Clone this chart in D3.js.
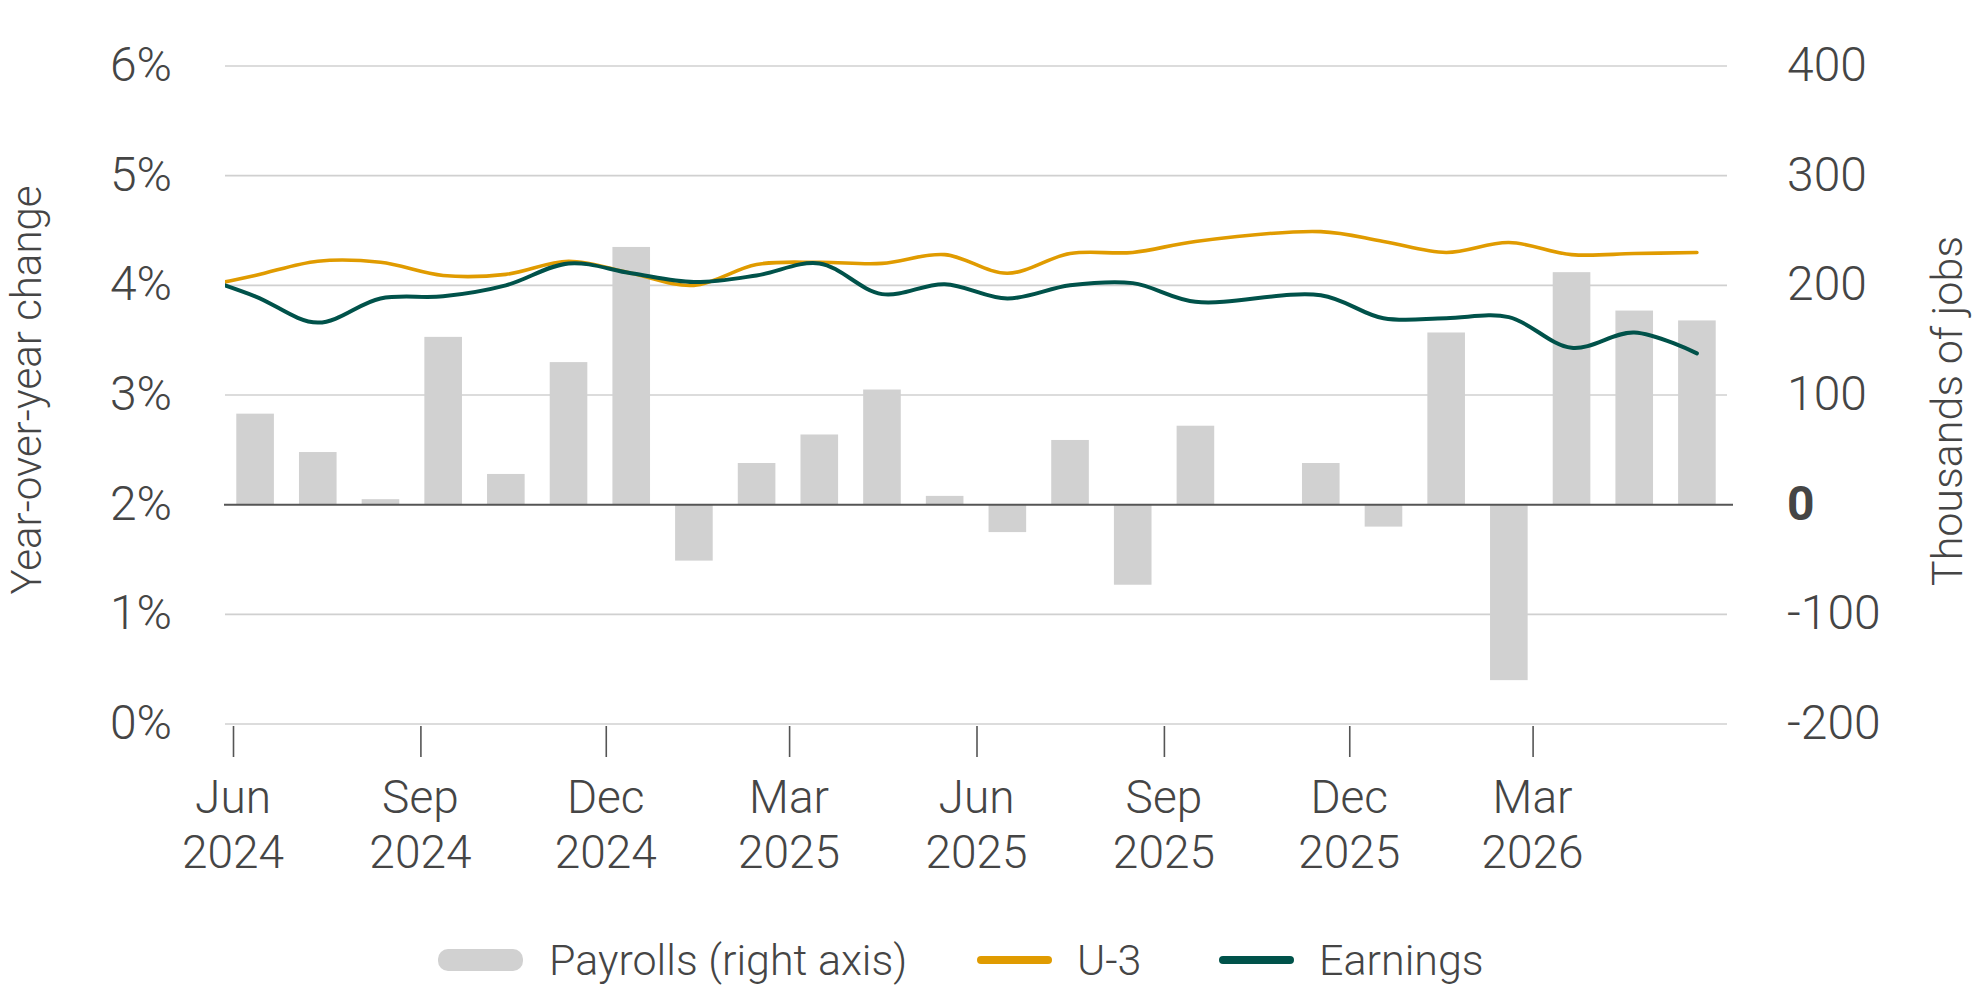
<!DOCTYPE html>
<html>
<head>
<meta charset="utf-8">
<script src="https://cdn.jsdelivr.net/npm/d3@7"></script>
<style>
  body { margin: 0; background: #fff; }
  svg text { font-family: Roboto, "Noto Sans", sans-serif; fill: #454545; font-weight: 300; }
</style>
</head>
<body>
<svg width="1976" height="1004"></svg>
<script>
// monthly categories for the bars
const months = ['Jun 2024', 'Jul 2024', 'Aug 2024', 'Sep 2024', 'Oct 2024', 'Nov 2024', 'Dec 2024',
  'Jan 2025', 'Feb 2025', 'Mar 2025', 'Apr 2025', 'May 2025', 'Jun 2025', 'Jul 2025', 'Aug 2025',
  'Sep 2025', 'Oct 2025', 'Nov 2025', 'Dec 2025', 'Jan 2026', 'Feb 2026', 'Mar 2026', 'Apr 2026', 'May 2026']

// payroll change, thousands of jobs (Oct 2025 not published)
const payrolls = [83, 48, 5, 153, 28, 130, 235, -51, 38, 64, 105, 8, -25, 59, -73, 72, null,
  38, -20, 157, -160, 212, 177, 168]

// the lines start one month earlier, that point falls outside the plot and gets clipped
const lineMonths = ['May 2024'].concat(months)
const u3 = [3.97, 4.09, 4.22, 4.21, 4.09, 4.10, 4.22, 4.11, 4.00, 4.19, 4.21, 4.20, 4.28, 4.11,
  4.29, 4.30, 4.40, null, 4.49, 4.40, 4.30, 4.39, 4.28, 4.29, 4.30]
const earnings = [4.10, 3.90, 3.66, 3.88, 3.90, 4.00, 4.20, 4.11, 4.03, 4.09, 4.20, 3.92, 4.01, 3.88,
  4.00, 4.02, 3.85, null, 3.91, 3.70, 3.70, 3.71, 3.43, 3.57, 3.38]

const leftTicks = [0, 1, 2, 3, 4, 5, 6]
const rightTicks = [-200, -100, 0, 100, 200, 300, 400]
const tickDates = ['2024-06', '2024-09', '2024-12', '2025-03', '2025-06', '2025-09', '2025-12', '2026-03']

const legendItems = [
  { label: 'Payrolls (right axis)', kind: 'bar', color: '#d1d1d1' },
  { label: 'U-3', kind: 'line', color: '#e09b00' },
  { label: 'Earnings', kind: 'line', color: '#00524a' }
]

const W = 1976
const H = 1004
const margin = { top: 66, right: 249, bottom: 280, left: 225 }
const x0 = margin.left
const x1 = W - margin.right
const y0 = H - margin.bottom
const y1 = margin.top

const svg = d3.select('svg')

const xBand = d3.scaleBand().domain(months).range([x0, x1]).paddingInner(0.4).paddingOuter(0.18)
const step = xBand.step()
const firstCenter = xBand(months[0]) + xBand.bandwidth() / 2
const xLine = d3.scaleLinear().domain([1, lineMonths.length - 1])
  .range([firstCenter, firstCenter + step * (lineMonths.length - 2)])

const parseMonth = d3.timeParse('%Y-%m')
const xTime = d3.scaleTime().domain([parseMonth('2024-06'), parseMonth('2026-06')]).range([233, 1720])

const yLeft = d3.scaleLinear().domain([0, 6]).range([y0, y1])
const yRight = d3.scaleLinear().domain([-200, 400]).range([y0, y1])

// gridlines
const gridG = svg.append('g').attr('class', 'grid')
gridG.selectAll('line')
  .data(leftTicks.filter(function (d) { return d !== 2 }))
  .enter().append('line')
  .attr('x1', x0).attr('x2', x1)
  .attr('y1', function (d) { return yLeft(d) })
  .attr('y2', function (d) { return yLeft(d) })
  .attr('stroke', '#d0d0d0')
  .attr('stroke-width', 1.6)

// bars
const barG = svg.append('g').attr('class', 'bars')
barG.selectAll('rect')
  .data(months.map(function (m, i) { return { m: m, v: payrolls[i] } }).filter(function (d) { return d.v !== null }))
  .enter().append('rect')
  .attr('x', function (d) { return xBand(d.m) })
  .attr('width', xBand.bandwidth())
  .attr('y', function (d) { return yRight(Math.max(0, d.v)) })
  .attr('height', function (d) { return Math.abs(yRight(d.v) - yRight(0)) })
  .attr('fill', '#d1d1d1')

// zero line of the payrolls
svg.append('line')
  .attr('x1', x0 - 1).attr('x2', x1 + 6)
  .attr('y1', yRight(0)).attr('y2', yRight(0))
  .attr('stroke', '#555')
  .attr('stroke-width', 2)

// lines
svg.append('clipPath').attr('id', 'plotClip')
  .append('rect').attr('x', x0).attr('y', 0).attr('width', x1 - x0).attr('height', H)

const line = d3.line()
  .defined(function (d) { return d.v !== null })
  .x(function (d) { return xLine(d.i) })
  .y(function (d) { return yLeft(d.v) })
  .curve(d3.curveCatmullRom.alpha(0.5))

function drawSeries (values, color, width) {
  const pts = values.map(function (v, i) { return { i: i, v: v } }).filter(function (d) { return d.v !== null })
  svg.append('path')
    .attr('d', line(pts))
    .attr('fill', 'none')
    .attr('stroke', color)
    .attr('stroke-width', width)
    .attr('stroke-linecap', 'round')
    .attr('stroke-linejoin', 'round')
    .attr('clip-path', 'url(#plotClip)')
}
drawSeries(u3, legendItems[1].color, 3.6)
drawSeries(earnings, legendItems[2].color, 4)

// x axis ticks and two-line labels
const xAxisG = svg.append('g')
  .attr('transform', 'translate(0,' + (y0 + 2) + ')')
  .call(d3.axisBottom(xTime)
    .tickValues(tickDates.map(parseMonth))
    .tickSize(31)
    .tickFormat(''))
xAxisG.select('.domain').remove()
xAxisG.selectAll('.tick line').attr('stroke', '#555').attr('stroke-width', 1.6)

const fmtMon = d3.timeFormat('%b')
const fmtYear = d3.timeFormat('%Y')
const xLab = svg.append('g').selectAll('text')
  .data(tickDates.map(parseMonth))
  .enter().append('text')
  .attr('x', function (d) { return xTime(d) })
  .attr('text-anchor', 'middle')
  .style('font-size', '46px')
xLab.append('tspan').attr('y', 813).attr('x', function (d) { return xTime(d) }).text(fmtMon)
xLab.append('tspan').attr('y', 868).attr('x', function (d) { return xTime(d) }).text(fmtYear)

// y axis labels
svg.append('g').selectAll('text')
  .data(leftTicks)
  .enter().append('text')
  .attr('x', 172)
  .attr('y', function (d) { return yLeft(d) + 15 })
  .attr('text-anchor', 'end')
  .style('font-size', '48px')
  .text(function (d) { return d + '%' })

svg.append('g').selectAll('text')
  .data(rightTicks)
  .enter().append('text')
  .attr('x', 1787)
  .attr('y', function (d) { return yRight(d) + 15 })
  .attr('text-anchor', 'start')
  .style('font-size', '48px')
  .style('font-weight', function (d) { return d === 0 ? 700 : 300 })
  .text(function (d) { return d })

// axis titles
svg.append('text')
  .attr('transform', 'translate(41,' + 390 + ') rotate(-90)')
  .attr('text-anchor', 'middle')
  .style('font-size', '42px')
  .text('Year-over-year change')

svg.append('text')
  .attr('transform', 'translate(1962,' + 411 + ') rotate(-90)')
  .attr('text-anchor', 'middle')
  .style('font-size', '43px')
  .text('Thousands of jobs')

// legend
const legendX = [438, 978, 1220]
const legendG = svg.append('g').attr('class', 'legend')
legendItems.forEach(function (item, i) {
  const g = legendG.append('g').attr('transform', 'translate(' + legendX[i] + ',960)')
  if (item.kind === 'bar') {
    g.append('rect').attr('x', 0).attr('y', -11).attr('width', 85).attr('height', 22)
      .attr('rx', 10).attr('fill', item.color)
    g.append('text').attr('x', 111).attr('y', 15).style('font-size', '43px').text(item.label)
  } else {
    g.append('line').attr('x1', 3).attr('x2', 70).attr('y1', 0).attr('y2', 0)
      .attr('stroke', item.color).attr('stroke-width', 8).attr('stroke-linecap', 'round')
    g.append('text').attr('x', 99).attr('y', 15).style('font-size', '43px').text(item.label)
  }
})
</script>
</body>
</html>
